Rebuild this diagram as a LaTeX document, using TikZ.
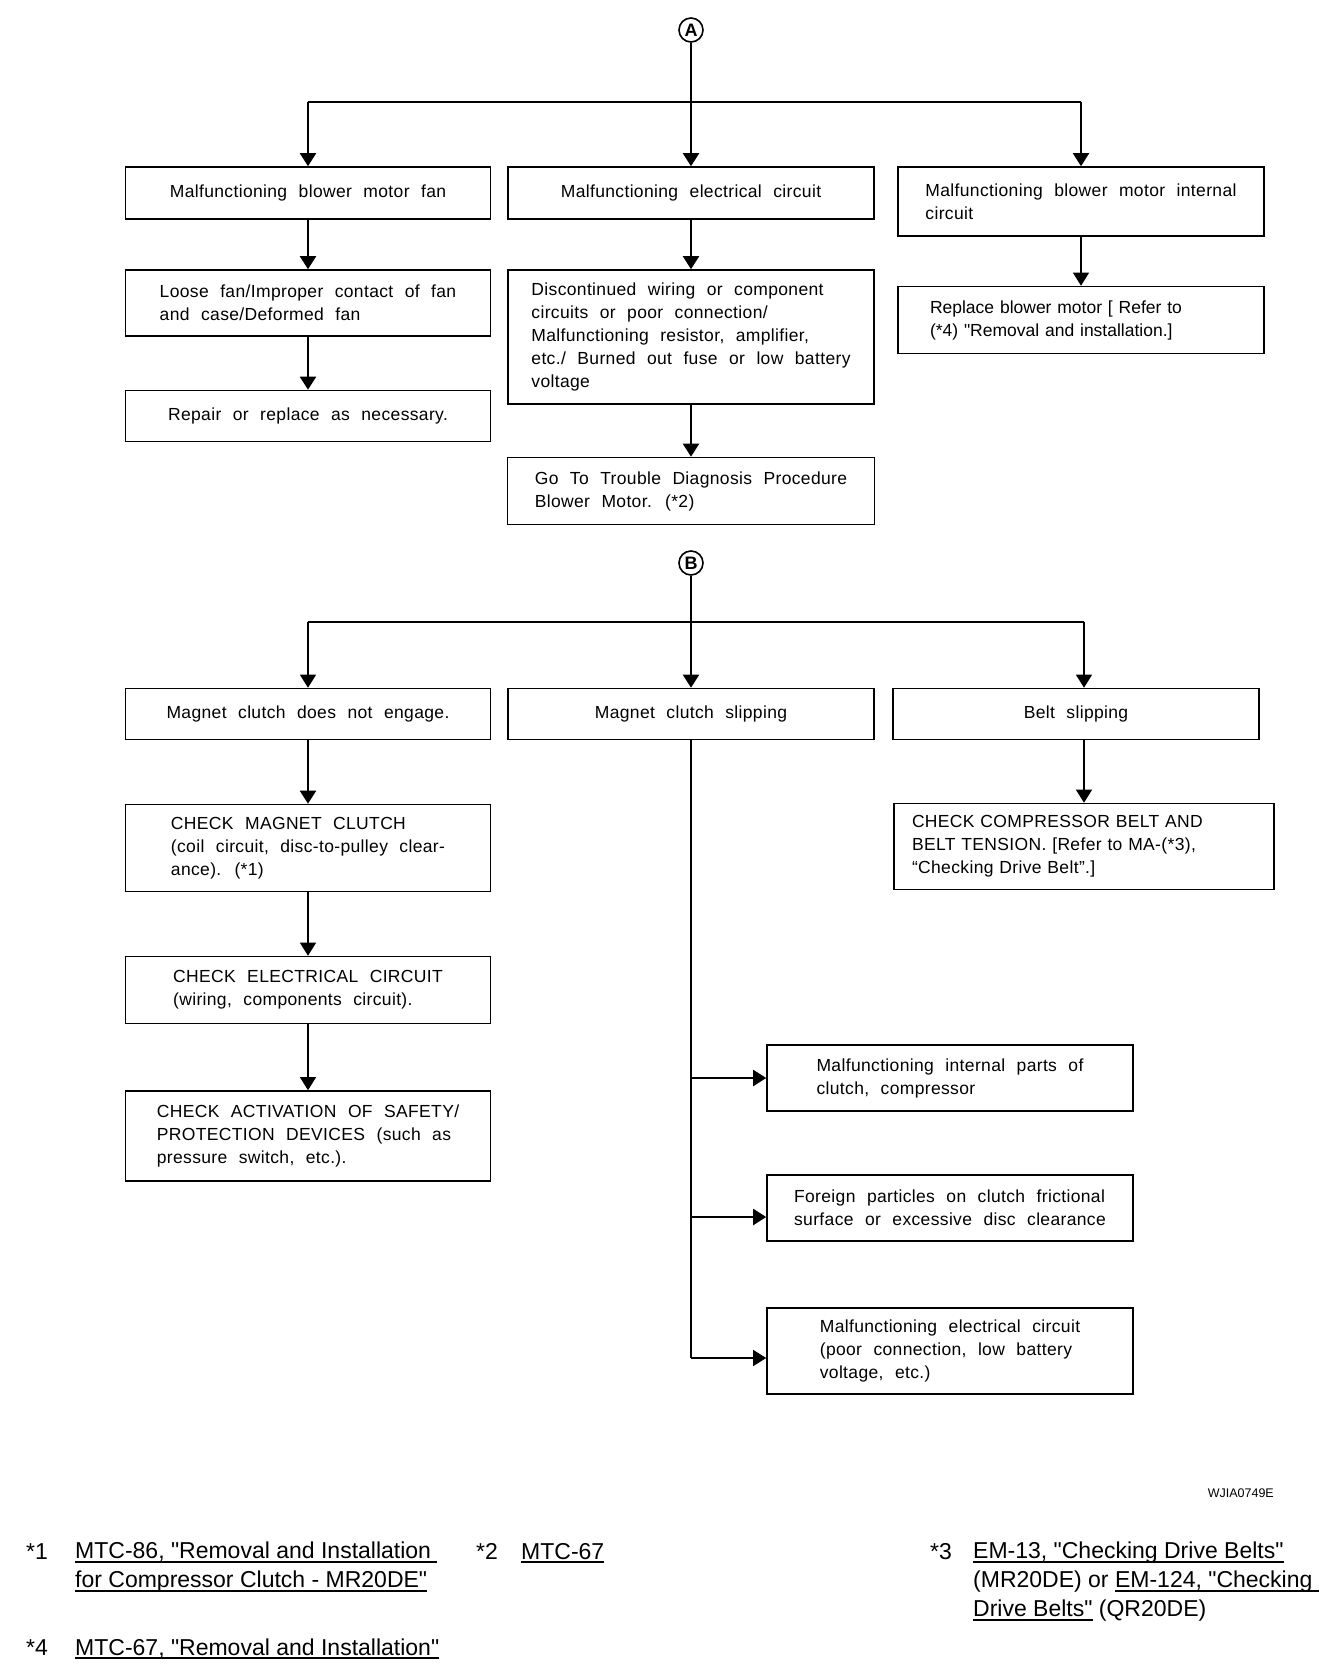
\documentclass[tikz,border=0pt]{standalone}
\usepackage{fontspec}
\setmainfont{Liberation Sans}[Ligatures=TeXOff]
\newfontfamily\diagface[LetterSpace=2,WordSpace=2.2,Ligatures=TeXOff]{Liberation Sans}
\newfontfamily\plainface[Ligatures=TeXOff]{Liberation Sans}
\usetikzlibrary{arrows.meta}

% underline for the cross references
\newcommand\ulnote[1]{\leavevmode\setbox0\hbox{#1}\rlap{\rule[-4pt]{\wd0}{1.6pt}}\box0\relax}

\begin{document}
\begin{tikzpicture}[x=1pt, y=-1pt,
    diag/.style n args={2}{draw, line width=1.6pt, align=left, inner xsep=0pt, inner ysep=0pt,
      minimum width=#1pt, minimum height=#2pt, font=\diagface\fontsize{17.5}{23}\selectfont},
    refcircle/.style={draw, circle, line width=1.6pt, minimum size=24pt, inner sep=0pt,
      font=\bfseries\fontsize{18}{18}\selectfont},
    link/.style={line width=2pt},
    thinlink/.style={line width=1.1pt},
    tip/.style={-{Triangle[width=16pt,length=13pt]}},
    note/.style={inner sep=0pt, align=left, font=\fontsize{23}{29}\selectfont}]
  \useasboundingbox (0,0) rectangle (1344,1668);

  % Part A: blower motor
  \node[refcircle] (A) at (691,30) {A};
  \node[diag={365}{52}] (B1) at (308,193) {Malfunctioning blower motor fan};
  \node[diag={366}{52}] (B2) at (691,193) {Malfunctioning electrical circuit};
  \node[diag={366}{69}] (B3) at (1081,201.5) {Malfunctioning blower motor internal\\circuit};
  \node[diag={365}{66}] (B1b) at (308,303) {Loose fan/Improper contact of fan\\and case/Deformed fan};
  \node[diag={365}{51}] (B1c) at (308,416) {Repair or replace as necessary.};
  \node[diag={366}{134}] (B2b) at (691,337) {Discontinued wiring or component\\circuits or poor connection/\\Malfunctioning resistor, amplifier,\\etc./ Burned out fuse or low battery\\voltage};
  \node[diag={367}{67}] (B2c) at (691,491) {Go To Trouble Diagnosis Procedure\\Blower Motor. (*2)};
  \node[diag={366}{67}, text width=302pt, inner xsep=32pt, font=\plainface\fontsize{17.5}{23}\selectfont] (B3b) at (1081,320) {Replace blower motor [ Refer to\\(*4) "Removal and installation.]};

  \coordinate (forkA) at (691,102);
  \draw[link] (A) -- (forkA);
  \draw[link] (forkA -| B1) -- (forkA -| B3);
  \foreach \b in {B1,B2,B3}
    \draw[link,tip] (forkA -| \b) -- (\b);
  \draw[link,tip] (B1) -- (B1b);
  \draw[link,tip] (B1b) -- (B1c);
  \draw[link,tip] (B2) -- (B2b);
  \draw[link,tip] (B2b) -- (B2c);
  \draw[thinlink,tip] (B3) -- (B3b);

  % Part B: magnet clutch
  \node[refcircle] (B) at (691,563) {B};
  \node[diag={365}{51}] (B4) at (308,714) {Magnet clutch does not engage.};
  \node[diag={366}{51}] (B5) at (691,714) {Magnet clutch slipping};
  \node[diag={366}{51}] (B6) at (1076,714) {Belt slipping};
  \node[diag={365}{87}] (B4b) at (308,848) {CHECK MAGNET CLUTCH\\(coil circuit, disc-to-pulley clear-\\ance). (*1)};
  \node[diag={365}{67}] (B4c) at (308,990) {CHECK ELECTRICAL CIRCUIT\\(wiring, components circuit).};
  \node[diag={365}{90}] (B4d) at (308,1136) {CHECK ACTIVATION OF SAFETY/\\PROTECTION DEVICES (such as\\pressure switch, etc.).};
  \node[diag={380}{86}, text width=344pt, inner xsep=18pt] (B6b) at (1084,846.5) {CHECK COMPRESSOR BELT AND\\BELT TENSION. [Refer to MA-(*3),\\“Checking Drive Belt”.]};
  \node[diag={366}{66}] (R1) at (950,1078) {Malfunctioning internal parts of\\clutch, compressor};
  \node[diag={366}{66}] (R2) at (950,1208) {Foreign particles on clutch frictional\\surface or excessive disc clearance};
  \node[diag={366}{86}] (R3) at (950,1351) {Malfunctioning electrical circuit\\(poor connection, low battery\\voltage, etc.)};

  \coordinate (forkB) at (691,622);
  \draw[link,tip] (B) -- (B5);
  \draw[thinlink] (forkB -| B4) -- (forkB -| B6b);
  \draw[thinlink,tip] (forkB -| B4) -- (B4);
  \draw[thinlink,tip] (forkB -| B6b) -- (B6.north -| B6b);
  \draw[link,tip] (B4) -- (B4b);
  \draw[thinlink,tip] (B4b) -- (B4b |- B4c.north);
  \draw[thinlink,tip] (B4c.south -| B4b) -- (B4d);
  \draw[thinlink,tip] (B6.south -| B6b) -- (B6b);

  \coordinate (r2in) at ([yshift=-9pt]R2.west);
  \coordinate (r3in) at ([yshift=-7pt]R3.west);
  \draw[thinlink] (B5) -- (B5 |- r3in);
  \draw[link,tip] (B5 |- R1) -- (R1);
  \draw[link,tip] (B5 |- r2in) -- (r2in);
  \draw[thinlink,tip] (B5 |- r3in) -- (r3in);

  \node[anchor=base east, inner sep=0pt, font=\fontsize{12.5}{14}\selectfont] (code) at (1274,1497) {WJIA0749E};

  % references
  \node[note, anchor=base west] (s1) at (26,1559) {*1};
  \node[note, anchor=north west] (n1) at (75,1542) {\ulnote{MTC-86, "Removal and Installation\ }\\\ulnote{for Compressor Clutch - MR20DE"}};
  \node[note, anchor=base west] (s2) at (476,1559) {*2};
  \node[note, anchor=base west] (n2) at (521,1559) {\ulnote{MTC-67}};
  \node[note, anchor=base west] (s3) at (930,1559) {*3};
  \node[note, anchor=north west] (n3) at (973,1542) {\ulnote{EM-13, "Checking Drive Belts"}\\(MR20DE) or \ulnote{EM-124, "Checking\ }\\\ulnote{Drive Belts"} (QR20DE)};
  \node[note, anchor=base west] (s4) at (26,1655) {*4};
  \node[note, anchor=base west] (n4) at (75,1655) {\ulnote{MTC-67, "Removal and Installation"}};
\end{tikzpicture}
\end{document}
